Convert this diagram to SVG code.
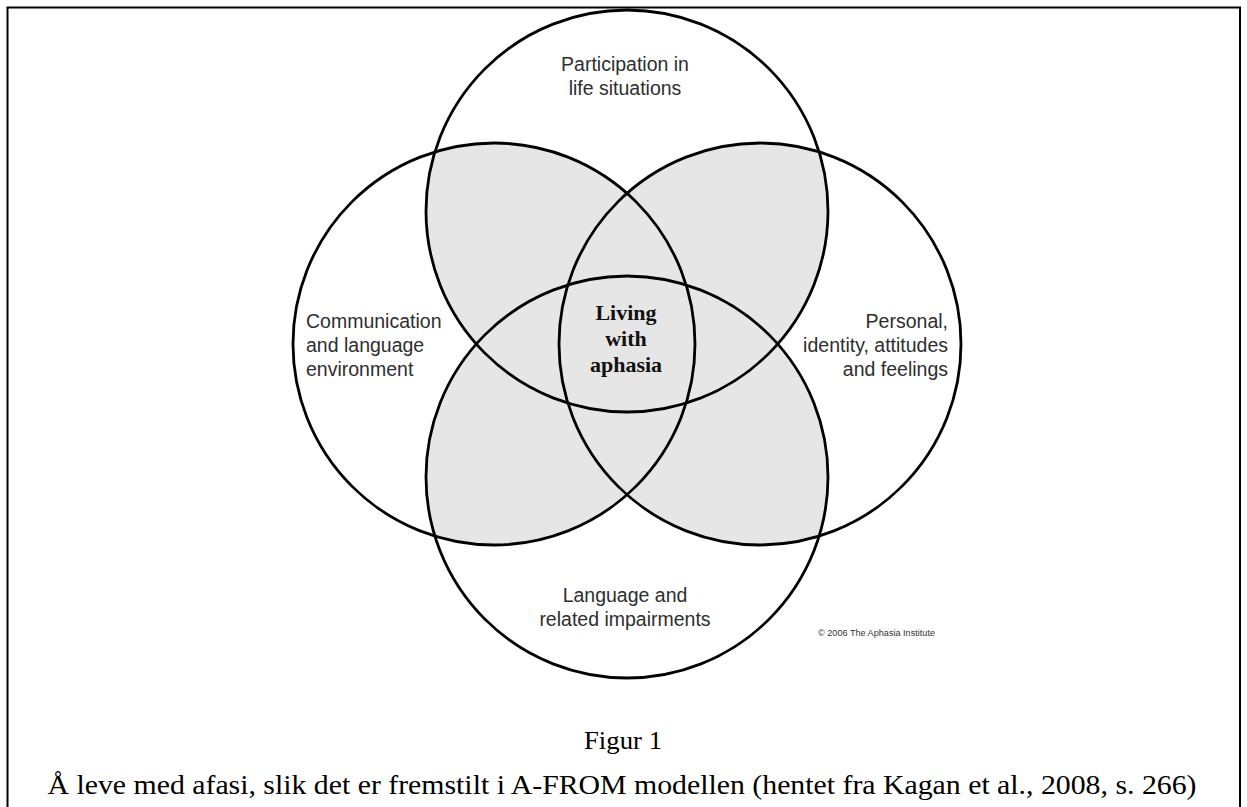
<svg xmlns="http://www.w3.org/2000/svg" width="1247" height="807" viewBox="0 0 1247 807">
<style>
.ring{fill:none;stroke:#000;stroke-width:2.8}
.lab{font-family:"Liberation Sans",Arial,sans-serif;font-size:19.5px;fill:#2e2e2e}
.ctr{font-family:"Liberation Serif","Times New Roman",serif;font-size:22px;font-weight:bold;fill:#111;text-anchor:middle}
.cap{font-family:"Liberation Serif","Times New Roman",serif;fill:#000;text-anchor:middle}
.sh{fill:#e6e6e6}
</style>
<defs>
<circle id="cL" cx="494" cy="344" r="201"/>
<circle id="cT" cx="627" cy="211" r="201"/>
<circle id="cR" cx="760" cy="344" r="201"/>
<circle id="cB" cx="627" cy="477" r="201"/>
<clipPath id="kL"><use href="#cL"/></clipPath>
<clipPath id="kT"><use href="#cT"/></clipPath>
<clipPath id="kR"><use href="#cR"/></clipPath>
</defs>
<rect width="1247" height="807" fill="#fff"/>
<path d="M7.5,810 V7.5 H1240 V810" fill="none" stroke="#000" stroke-width="2"/>
<g id="overlaps">
<use href="#cT" class="sh" clip-path="url(#kL)"/>
<use href="#cR" class="sh" clip-path="url(#kL)"/>
<use href="#cB" class="sh" clip-path="url(#kL)"/>
<use href="#cR" class="sh" clip-path="url(#kT)"/>
<use href="#cB" class="sh" clip-path="url(#kT)"/>
<use href="#cB" class="sh" clip-path="url(#kR)"/>
</g>
<g id="node-top">
<use href="#cT" class="ring"/>
<text class="lab" text-anchor="middle" x="625" y="71">Participation in</text>
<text class="lab" text-anchor="middle" x="625" y="95">life situations</text>
</g>
<g id="node-left">
<use href="#cL" class="ring"/>
<text class="lab" x="306" y="328">Communication</text>
<text class="lab" x="306" y="352">and language</text>
<text class="lab" x="306" y="376">environment</text>
</g>
<g id="node-right">
<use href="#cR" class="ring"/>
<text class="lab" text-anchor="end" x="948" y="328">Personal,</text>
<text class="lab" text-anchor="end" x="948" y="352">identity, attitudes</text>
<text class="lab" text-anchor="end" x="948" y="376">and feelings</text>
</g>
<g id="node-bottom">
<use href="#cB" class="ring"/>
<text class="lab" text-anchor="middle" x="625" y="602">Language and</text>
<text class="lab" text-anchor="middle" x="625" y="626">related impairments</text>
</g>
<g id="node-center">
<text class="ctr" x="626" y="320">Living</text>
<text class="ctr" x="626" y="346">with</text>
<text class="ctr" x="626" y="372">aphasia</text>
</g>
<g id="copyright">
<text x="818" y="636" font-family="'Liberation Sans',Arial,sans-serif" font-size="8.5" fill="#333" textLength="117" lengthAdjust="spacingAndGlyphs">© 2006  The Aphasia Institute</text>
</g>
<g id="caption">
<text class="cap" x="623" y="749" font-size="26" textLength="78" lengthAdjust="spacingAndGlyphs">Figur 1</text>
<text class="cap" x="622" y="794" font-size="27" textLength="1149" lengthAdjust="spacingAndGlyphs">Å leve med afasi, slik det er fremstilt i A-FROM modellen (hentet fra Kagan et al., 2008, s. 266)</text>
</g>
</svg>
